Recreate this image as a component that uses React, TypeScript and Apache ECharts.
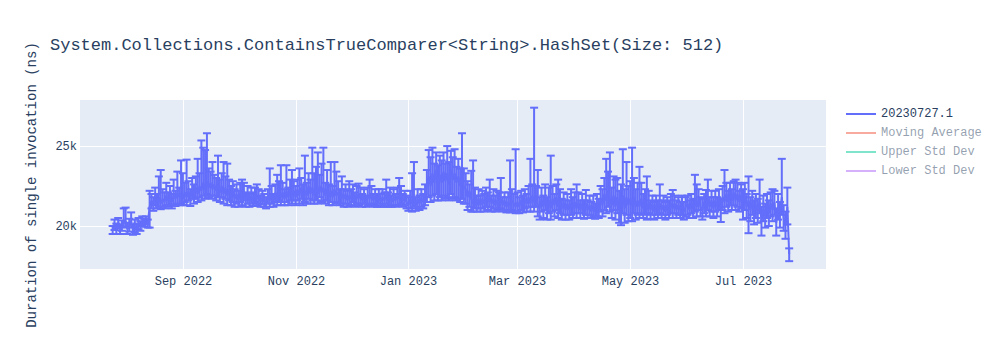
import React, { useEffect, useRef } from "react";
import * as echarts from "echarts";

const dates = [
  "2022-07-25", "2022-07-26", "2022-07-27", "2022-07-28", "2022-07-29", "2022-07-30", "2022-07-31",
  "2022-08-01", "2022-08-02", "2022-08-03", "2022-08-04", "2022-08-05", "2022-08-06", "2022-08-07", "2022-08-08", "2022-08-09", "2022-08-10", "2022-08-11", "2022-08-12", "2022-08-13", "2022-08-14", "2022-08-15", "2022-08-16", "2022-08-17", "2022-08-18", "2022-08-19", "2022-08-20", "2022-08-21", "2022-08-22", "2022-08-23", "2022-08-24", "2022-08-25", "2022-08-26", "2022-08-27", "2022-08-28", "2022-08-29", "2022-08-30", "2022-08-31",
  "2022-09-01", "2022-09-02", "2022-09-03", "2022-09-04", "2022-09-05", "2022-09-06", "2022-09-07", "2022-09-08", "2022-09-09", "2022-09-10", "2022-09-11", "2022-09-12", "2022-09-13", "2022-09-14", "2022-09-15", "2022-09-16", "2022-09-17", "2022-09-18", "2022-09-19", "2022-09-20", "2022-09-21", "2022-09-22", "2022-09-23", "2022-09-24", "2022-09-25", "2022-09-26", "2022-09-27", "2022-09-28", "2022-09-29", "2022-09-30",
  "2022-10-01", "2022-10-02", "2022-10-03", "2022-10-04", "2022-10-05", "2022-10-06", "2022-10-07", "2022-10-08", "2022-10-09", "2022-10-10", "2022-10-11", "2022-10-12", "2022-10-13", "2022-10-14", "2022-10-15", "2022-10-16", "2022-10-17", "2022-10-18", "2022-10-19", "2022-10-20", "2022-10-21", "2022-10-22", "2022-10-23", "2022-10-24", "2022-10-25", "2022-10-26", "2022-10-27", "2022-10-28", "2022-10-29", "2022-10-30", "2022-10-31",
  "2022-11-01", "2022-11-02", "2022-11-03", "2022-11-04", "2022-11-05", "2022-11-06", "2022-11-07", "2022-11-08", "2022-11-09", "2022-11-10", "2022-11-11", "2022-11-12", "2022-11-13", "2022-11-14", "2022-11-15", "2022-11-16", "2022-11-17", "2022-11-18", "2022-11-19", "2022-11-20", "2022-11-21", "2022-11-22", "2022-11-23", "2022-11-24", "2022-11-25", "2022-11-26", "2022-11-27", "2022-11-28", "2022-11-29", "2022-11-30",
  "2022-12-01", "2022-12-02", "2022-12-03", "2022-12-04", "2022-12-05", "2022-12-06", "2022-12-07", "2022-12-08", "2022-12-09", "2022-12-10", "2022-12-11", "2022-12-12", "2022-12-13", "2022-12-14", "2022-12-15", "2022-12-16", "2022-12-17", "2022-12-18", "2022-12-19", "2022-12-20", "2022-12-21", "2022-12-22", "2022-12-23", "2022-12-24", "2022-12-25", "2022-12-26", "2022-12-27", "2022-12-28", "2022-12-29", "2022-12-30", "2022-12-31",
  "2023-01-01", "2023-01-02", "2023-01-03", "2023-01-04", "2023-01-05", "2023-01-06", "2023-01-07", "2023-01-08", "2023-01-09", "2023-01-10", "2023-01-11", "2023-01-12", "2023-01-13", "2023-01-14", "2023-01-15", "2023-01-16", "2023-01-17", "2023-01-18", "2023-01-19", "2023-01-20", "2023-01-21", "2023-01-22", "2023-01-23", "2023-01-24", "2023-01-25", "2023-01-26", "2023-01-27", "2023-01-28", "2023-01-29", "2023-01-30", "2023-01-31",
  "2023-02-01", "2023-02-02", "2023-02-03", "2023-02-04", "2023-02-05", "2023-02-06", "2023-02-07", "2023-02-08", "2023-02-09", "2023-02-10", "2023-02-11", "2023-02-12", "2023-02-13", "2023-02-14", "2023-02-15", "2023-02-16", "2023-02-17", "2023-02-18", "2023-02-19", "2023-02-20", "2023-02-21", "2023-02-22", "2023-02-23", "2023-02-24", "2023-02-25", "2023-02-26", "2023-02-27", "2023-02-28",
  "2023-03-01", "2023-03-02", "2023-03-03", "2023-03-04", "2023-03-05", "2023-03-06", "2023-03-07", "2023-03-08", "2023-03-09", "2023-03-10", "2023-03-11", "2023-03-12", "2023-03-13", "2023-03-14", "2023-03-15", "2023-03-16", "2023-03-17", "2023-03-18", "2023-03-19", "2023-03-20", "2023-03-21", "2023-03-22", "2023-03-23", "2023-03-24", "2023-03-25", "2023-03-26", "2023-03-27", "2023-03-28", "2023-03-29", "2023-03-30", "2023-03-31",
  "2023-04-01", "2023-04-02", "2023-04-03", "2023-04-04", "2023-04-05", "2023-04-06", "2023-04-07", "2023-04-08", "2023-04-09", "2023-04-10", "2023-04-11", "2023-04-12", "2023-04-13", "2023-04-14", "2023-04-15", "2023-04-16", "2023-04-17", "2023-04-18", "2023-04-19", "2023-04-20", "2023-04-21", "2023-04-22", "2023-04-23", "2023-04-24", "2023-04-25", "2023-04-26", "2023-04-27", "2023-04-28", "2023-04-29", "2023-04-30",
  "2023-05-01", "2023-05-02", "2023-05-03", "2023-05-04", "2023-05-05", "2023-05-06", "2023-05-07", "2023-05-08", "2023-05-09", "2023-05-10", "2023-05-11", "2023-05-12", "2023-05-13", "2023-05-14", "2023-05-15", "2023-05-16", "2023-05-17", "2023-05-18", "2023-05-19", "2023-05-20", "2023-05-21", "2023-05-22", "2023-05-23", "2023-05-24", "2023-05-25", "2023-05-26", "2023-05-27", "2023-05-28", "2023-05-29", "2023-05-30", "2023-05-31",
  "2023-06-01", "2023-06-02", "2023-06-03", "2023-06-04", "2023-06-05", "2023-06-06", "2023-06-07", "2023-06-08", "2023-06-09", "2023-06-10", "2023-06-11", "2023-06-12", "2023-06-13", "2023-06-14", "2023-06-15", "2023-06-16", "2023-06-17", "2023-06-18", "2023-06-19", "2023-06-20", "2023-06-21", "2023-06-22", "2023-06-23", "2023-06-24", "2023-06-25", "2023-06-26", "2023-06-27", "2023-06-28", "2023-06-29", "2023-06-30",
  "2023-07-01", "2023-07-02", "2023-07-03", "2023-07-04", "2023-07-05", "2023-07-06", "2023-07-07", "2023-07-08", "2023-07-09", "2023-07-10", "2023-07-11", "2023-07-12", "2023-07-13", "2023-07-14", "2023-07-15", "2023-07-16", "2023-07-17", "2023-07-18", "2023-07-19", "2023-07-20", "2023-07-21", "2023-07-22", "2023-07-23", "2023-07-24", "2023-07-25", "2023-07-26",
];

const durations = [
  19700, 20100, 19800, 20200, 19750, 20050, 20300,
  20300, 19800, 20100, 20300, 19700, 20000, 19800, 20200, 20000, 20300, 20200, 20350, 20150, 21200, 21600, 21300, 21900, 21500, 21800, 21400, 21700, 21500, 21900, 21600, 21800, 21500, 21900, 21700, 22100, 21800, 22000,
  21700, 22100, 21800, 22200, 21700, 22300, 21900, 22400, 22000, 22500, 22200, 22700, 22300, 22800, 22400, 22700, 22300, 22600, 22200, 22600, 22100, 22500, 22000, 22400, 21900, 22300, 21800, 22200, 21700, 22000,
  21600, 22100, 21700, 22200, 21600, 22000, 21500, 21900, 21600, 22000, 21700, 21900, 21500, 21800, 21500, 21400, 21900, 21600, 22000, 21500, 22100, 21700, 22200, 21800, 22100, 21700, 22200, 21800, 22300, 21900, 22200,
  21800, 22300, 21900, 22400, 21800, 22200, 21900, 22500, 22000, 22400, 21900, 22300, 22000, 22500, 22100, 22400, 21900, 22300, 21800, 22200, 21800, 22300, 21900, 22100, 21700, 22000, 21700, 22000, 21600, 21900,
  21700, 22100, 21600, 22000, 21700, 22000, 21600, 21900, 21500, 21900, 21700, 22000, 21600, 21900, 21600, 21900, 21500, 21800, 21600, 22000, 21600, 21900, 21500, 21800, 21600, 21900, 21700, 22000, 21600, 21800, 21500,
  21300, 21700, 21400, 21800, 21300, 21700, 21400, 21800, 21500, 21900, 22600, 23100, 22500, 23300, 22700, 23500, 22600, 23200, 22700, 23400, 22800, 23300, 22600, 23500, 22900, 23300, 22700, 23100, 22500, 23000, 22400,
  22300, 21800, 22200, 21700, 21400, 21800, 21300, 21700, 21300, 21700, 21400, 21800, 21500, 21800, 21400, 21700, 21300, 21600, 21500, 21700, 21300, 21600, 21200, 21500, 21300, 21600, 21400, 21200,
  21500, 21200, 21600, 21300, 21700, 21400, 21800, 21400, 21900, 21500, 21900, 21300, 21100, 21700, 21200, 21800, 21100, 21600, 21100, 21700, 21300, 21800, 21200, 21600, 21100, 21500, 21000, 21400, 21000, 21400, 21100,
  21500, 21100, 21500, 21000, 21400, 21000, 21400, 21000, 21300, 20900, 21300, 20900, 21400, 21000, 21700, 21300, 22000, 21600, 22200, 21700, 21300, 21900, 21200, 21800, 21000, 21500, 21900, 21100, 21800, 21300,
  21700, 21300, 21800, 21200, 21600, 21200, 21700, 21100, 21500, 21000, 21500, 21000, 21400, 20900, 21300, 21000, 21400, 21000, 21300, 20900, 21300, 21000, 21400, 21100, 21400, 21000, 21300, 21000, 21300, 20900, 21200,
  21400, 21000, 21500, 21100, 21600, 21200, 21700, 21200, 21000, 21500, 21200, 21700, 21200, 21600, 21100, 21600, 21200, 21700, 21000, 21800, 21500, 22000, 21500, 22000, 21600, 22100, 21600, 22000, 21500, 21900,
  21500, 21900, 21200, 21600, 21000, 21500, 20800, 21300, 20900, 21600, 20300, 21100, 20600, 21300, 20800, 21400, 21000, 21500, 20200, 21200, 20700, 21800, 20500, 20000, 21200, 18250,
];

const upperBounds = [
  20000, 20400, 20150, 20500, 20100, 20350, 21100,
  21150, 20200, 20450, 20850, 20100, 20400, 20150, 20500, 20300, 20600, 20450, 20600, 20400, 22200, 22000, 21800, 22400, 22000, 23100, 23500, 22300, 22100, 22700, 22100, 22500, 22000, 22900, 22200, 23400, 22400, 24100,
  23300, 22700, 24150, 22800, 22300, 23000, 22600, 23100, 24200, 23300, 25350, 24900, 24750, 25800, 23600, 23400, 24000, 23200, 23000, 24400, 22900, 23300, 24000, 23100, 23900, 22900, 22500, 22800, 22300, 22600,
  22200, 22700, 22900, 22700, 22100, 22500, 22000, 22400, 22100, 22400, 22600, 22300, 21900, 22200, 22000, 21800, 22300, 23600, 22500, 22000, 22600, 23200, 22800, 23800, 22700, 22300, 23800, 22400, 22900, 23500, 22800,
  22500, 22900, 23600, 23000, 22600, 24400, 22700, 23300, 22900, 24900, 23300, 23700, 24600, 23200, 23900, 24900, 22700, 23500, 22600, 24000, 22500, 24000, 23400, 22800, 22300, 23100, 22300, 22600, 22200, 22800,
  22300, 22600, 22100, 22500, 22650, 22400, 22000, 22300, 21900, 22400, 22900, 22500, 22000, 22300, 22000, 22300, 22000, 22300, 22100, 22900, 22100, 22400, 21900, 22300, 22000, 22400, 23000, 22500, 22000, 22200, 21900,
  21800, 22200, 23300, 24000, 21800, 22300, 21900, 22300, 22000, 22600, 23500, 24750, 24300, 24900, 23900, 24600, 23800, 24400, 24100, 24600, 23900, 25000, 24000, 24700, 24300, 24800, 23700, 24200, 23600, 25800, 23600,
  23300, 22800, 22600, 23450, 24100, 22400, 21900, 22300, 21900, 22200, 22000, 22400, 22100, 22900, 21900, 22300, 21900, 22200, 22100, 23000, 21800, 22100, 21800, 22100, 24100, 22300, 22000, 24800,
  22100, 21800, 22200, 21900, 22300, 22000, 22500, 24200, 22600, 27400, 22500, 23500, 21800, 22400, 21900, 22600, 21800, 22400, 24400, 22500, 22000, 22600, 22900, 22300, 21700, 22100, 21600, 22000, 21600, 22300, 21800,
  22100, 22600, 22100, 21600, 22000, 21600, 22250, 21600, 21900, 21500, 21900, 21400, 22000, 21700, 22500, 22300, 23000, 24200, 23400, 24600, 22400, 23100, 22900, 23000, 22200, 22600, 24800, 22300, 24000, 22500,
  22800, 24900, 23000, 22300, 22700, 23700, 22700, 22000, 22300, 23100, 22200, 21600, 21900, 21500, 21900, 21600, 22600, 21600, 21900, 21500, 21800, 21600, 22000, 22250, 21900, 21600, 21800, 21500, 21900, 21500, 21800,
  21900, 21600, 22000, 21700, 23200, 22600, 22300, 21800, 21700, 22000, 22250, 22900, 21800, 22200, 21800, 22200, 21800, 22300, 21700, 22500, 23500, 22700, 22200, 22700, 22300, 22800, 22900, 22700, 22200, 22600,
  22300, 22700, 22000, 23100, 21800, 22200, 21600, 22000, 21700, 22900, 21200, 21900, 21400, 22000, 21600, 22100, 22300, 22200, 21100, 22000, 21500, 24200, 21300, 20900, 22400, 18600,
];

const lowerBounds = [
  19500, 19750, 19500, 19850, 19500, 19700, 19950,
  19900, 19500, 19650, 19900, 19450, 19600, 19500, 19800, 19700, 20000, 19950, 20100, 19900, 19900, 21100, 20950, 21300, 21100, 21200, 21050, 21200, 21100, 21300, 21200, 21300, 21100, 21350, 21250, 21400, 21300, 21400,
  21300, 21500, 21300, 21600, 21250, 21700, 21400, 21700, 21500, 21800, 21600, 21900, 21700, 22000, 21800, 21900, 21700, 21900, 21600, 21800, 21500, 21800, 21400, 21700, 21300, 21600, 21300, 21500, 21200, 21400,
  21200, 21500, 21300, 21600, 21200, 21400, 21200, 21400, 21250, 21500, 21300, 21400, 21200, 21350, 21200, 21100, 21400, 21200, 21400, 21200, 21500, 21300, 21600, 21300, 21500, 21300, 21500, 21300, 21600, 21400, 21600,
  21300, 21600, 21400, 21700, 21300, 21500, 21400, 21700, 21400, 21600, 21400, 21600, 21400, 21800, 21500, 21600, 21400, 21600, 21300, 21500, 21300, 21500, 21400, 21500, 21300, 21400, 21200, 21400, 21200, 21300,
  21300, 21500, 21200, 21400, 21300, 21400, 21200, 21400, 21200, 21300, 21300, 21400, 21200, 21300, 21200, 21400, 21200, 21300, 21200, 21400, 21200, 21300, 21200, 21300, 21200, 21300, 21300, 21400, 21200, 21300, 21100,
  20950, 21100, 20900, 21200, 20950, 21100, 21000, 21200, 21100, 21300, 21500, 21800, 21500, 21900, 21600, 22000, 21600, 21800, 21600, 21900, 21700, 21800, 21600, 22000, 21700, 21800, 21600, 21700, 21500, 21700, 21400,
  21400, 21000, 21200, 20900, 20900, 21100, 20900, 21100, 20900, 21100, 20900, 21200, 21000, 21200, 20900, 21100, 20900, 21000, 20950, 21100, 20900, 21000, 20850, 20900, 20850, 21000, 20900, 20800,
  20900, 20800, 21000, 20850, 21100, 20900, 21200, 20900, 21200, 20900, 21200, 20600, 20400, 20900, 20500, 21000, 20400, 20800, 20400, 20900, 20600, 21000, 20500, 20800, 20400, 20700, 20400, 20700, 20400, 20700, 20500,
  20800, 20500, 20800, 20500, 20800, 20450, 20700, 20500, 20700, 20500, 20600, 20450, 20600, 20500, 20900, 20600, 21000, 20800, 21200, 20900, 20500, 21000, 20400, 20800, 20200, 20050, 20800, 20200, 20700, 20300,
  20500, 20300, 20800, 20400, 20700, 20500, 20800, 20500, 20700, 20400, 20800, 20450, 20700, 20400, 20700, 20500, 20800, 20500, 20700, 20400, 20700, 20500, 20800, 20500, 20800, 20500, 20700, 20500, 20700, 20400, 20600,
  20700, 20500, 20800, 20500, 20900, 20600, 21000, 20600, 20400, 20800, 20600, 21000, 20600, 20900, 20500, 20900, 20600, 21000, 20250, 21000, 20800, 21200, 20900, 21300, 21000, 21300, 21000, 21200, 20900, 21100,
  20400, 21000, 20500, 19550, 20300, 20700, 20100, 20500, 20200, 20800, 19400, 20300, 19900, 20500, 20000, 20600, 20300, 20700, 19400, 20400, 19900, 20700, 19700, 19200, 20100, 17800,
];

const xTicks = ["2022-09-01", "2022-11-01", "2023-01-01", "2023-03-01", "2023-05-01", "2023-07-01"];
const xTickLabels = ["Sep 2022", "Nov 2022", "Jan 2023", "Mar 2023", "May 2023", "Jul 2023"];
const yTicks = [20000, 25000];
const yTickLabels = ["20k", "25k"];
const legendNames = ["20230727.1", "Moving Average", "Upper Std Dev", "Lower Std Dev"];
const legendColors = ["#636efa", "#EF553B", "#00cc96", "#ab63fa"];
const legendVisible = [true, false, false, false];
const xRange = ["2022-07-07T08:00:00", "2023-08-14T22:00:00"];
const yRange = [17310, 27880];

const TITLE = "System.Collections.ContainsTrueComparer<String>.HashSet(Size: 512)";
const Y_TITLE = "Duration of single invocation (ns)";

const ts = (s: string) => new Date(s.length === 10 ? s + "T00:00:00" : s).getTime();

export default function App() {
  const ref = useRef<HTMLDivElement>(null);

  useEffect(() => {
    const chart = echarts.init(ref.current!, null, { renderer: "svg" });
    const font = "'Liberation Mono', 'Courier New', monospace";
    const textColor = "#2a3f5f";
    const lineColor = "#636efa";
    const xMin = ts(xRange[0]);
    const xMax = ts(xRange[1]);

    const points = dates.map((d, i) => [ts(d), durations[i]]);
    const bars = dates.map((d, i) => [ts(d), lowerBounds[i], upperBounds[i]]);

    const legendGraphics: any[] = [];
    legendNames.forEach((name, i) => {
      const y = 114 + i * 19;
      const op = legendVisible[i] ? 1 : 0.5;
      legendGraphics.push({
        type: "line",
        shape: { x1: 846, y1: y, x2: 876, y2: y },
        style: { stroke: legendColors[i], lineWidth: 2, opacity: op },
        silent: true,
      });
      legendGraphics.push({
        type: "text",
        x: 881,
        y,
        style: {
          text: name,
          fill: textColor,
          opacity: op,
          font: `12px ${font}`,
          align: "left",
          verticalAlign: "middle",
        },
        silent: true,
      });
    });

    chart.setOption({
      animation: false,
      title: {
        text: TITLE,
        left: 50,
        top: 37,
        padding: 0,
        textStyle: { fontFamily: font, fontSize: 17, fontWeight: "normal", color: textColor },
      },
      grid: {
        left: 80,
        top: 100,
        width: 746,
        height: 169,
        show: true,
        backgroundColor: "#E5ECF6",
        borderWidth: 0,
      },
      xAxis: {
        type: "time",
        min: xMin,
        max: xMax,
        axisLine: { show: false },
        axisTick: { show: false },
        axisLabel: { show: false },
        splitLine: { show: false },
      },
      yAxis: {
        type: "value",
        min: yRange[0],
        max: yRange[1],
        axisLine: { show: false },
        axisTick: { show: false },
        axisLabel: { show: false },
        splitLine: { show: false },
      },
      series: [
        {
          type: "custom",
          name: "xgrid",
          silent: true,
          z: 1,
          data: xTicks.map((t, i) => [ts(t), yRange[0], i]),
          renderItem: (params: any, api: any) => {
            const cs = params.coordSys;
            const x = Math.round(api.coord([api.value(0), yRange[0]])[0]) + 0.5;
            const label = xTickLabels[api.value(2)];
            return {
              type: "group",
              children: [
                {
                  type: "line",
                  shape: { x1: x, y1: cs.y, x2: x, y2: cs.y + cs.height },
                  style: { stroke: "#ffffff", lineWidth: 1 },
                },
                {
                  type: "text",
                  x,
                  y: cs.y + cs.height + 13,
                  style: {
                    text: label,
                    fill: textColor,
                    font: `12px ${font}`,
                    align: "center",
                    verticalAlign: "middle",
                  },
                },
              ],
            };
          },
        },
        {
          type: "custom",
          name: "ygrid",
          silent: true,
          z: 1,
          data: yTicks.map((v, i) => [xMin, v, i]),
          renderItem: (params: any, api: any) => {
            const cs = params.coordSys;
            const y = Math.round(api.coord([xMin, api.value(1)])[1]) + 0.5;
            const label = yTickLabels[api.value(2)];
            return {
              type: "group",
              children: [
                {
                  type: "line",
                  shape: { x1: cs.x, y1: y, x2: cs.x + cs.width, y2: y },
                  style: { stroke: "#ffffff", lineWidth: 1 },
                },
                {
                  type: "text",
                  x: cs.x - 3,
                  y,
                  style: {
                    text: label,
                    fill: textColor,
                    font: `12px ${font}`,
                    align: "right",
                    verticalAlign: "middle",
                  },
                },
              ],
            };
          },
        },
        {
          type: "custom",
          name: "errors",
          silent: true,
          z: 3,
          data: bars,
          renderItem: (params: any, api: any) => {
            const x = api.value(0);
            const lo = api.coord([x, api.value(1)]);
            const hi = api.coord([x, api.value(2)]);
            const w = 4;
            const st = { stroke: lineColor, lineWidth: 2 };
            return {
              type: "group",
              children: [
                { type: "line", shape: { x1: lo[0], y1: lo[1], x2: hi[0], y2: hi[1] }, style: st },
                { type: "line", shape: { x1: hi[0] - w, y1: hi[1], x2: hi[0] + w, y2: hi[1] }, style: st },
                { type: "line", shape: { x1: lo[0] - w, y1: lo[1], x2: lo[0] + w, y2: lo[1] }, style: st },
              ],
            };
          },
        },
        {
          type: "line",
          name: legendNames[0],
          data: points,
          showSymbol: false,
          z: 4,
          lineStyle: { color: lineColor, width: 2 },
          itemStyle: { color: lineColor },
        },
      ],
      graphic: [
        ...legendGraphics,
        {
          type: "text",
          x: 32,
          y: 185,
          rotation: Math.PI / 2,
          style: {
            text: Y_TITLE,
            fill: textColor,
            font: `14px ${font}`,
            align: "center",
            verticalAlign: "middle",
          },
          silent: true,
        },
      ],
    });

    return () => chart.dispose();
  }, []);

  return (
    <div
      ref={ref}
      style={{ position: "absolute", left: 0, top: 0, width: 1000, height: 350, background: "#ffffff" }}
    />
  );
}
